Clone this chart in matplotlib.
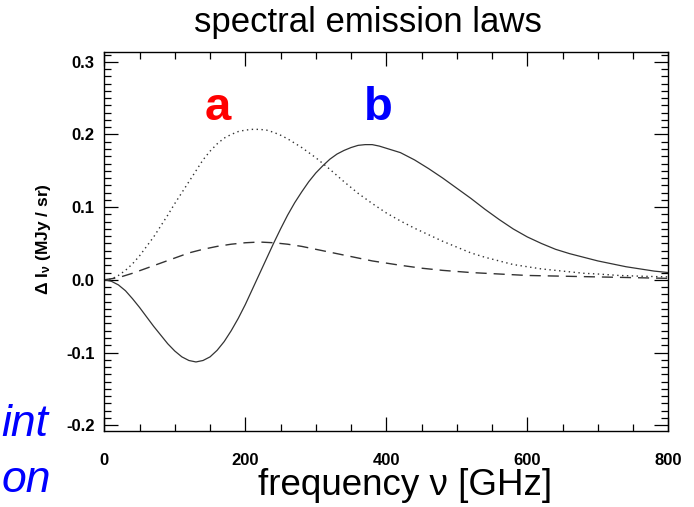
import matplotlib
matplotlib.use("Agg")
import matplotlib.pyplot as plt
from matplotlib.ticker import MultipleLocator

plt.rcParams['font.family'] = ['Liberation Sans', 'DejaVu Sans']
plt.rcParams['mathtext.fontset'] = 'custom'
plt.rcParams['mathtext.rm'] = 'Liberation Sans:bold'
plt.rcParams['mathtext.it'] = 'Liberation Sans:bold'
plt.rcParams['mathtext.bf'] = 'Liberation Sans:bold'

# curve b (solid)
freq_b = [0, 10, 20, 30, 40, 50, 60, 70, 80, 90, 100, 110, 120, 130, 140, 150, 160,
          170, 180, 190, 200, 210, 220, 230, 240, 250, 260, 270, 280, 290, 300, 310,
          320, 330, 340, 350, 360, 370, 380, 390, 400, 420, 440, 460, 480, 500, 520,
          540, 560, 580, 600, 620, 640, 660, 680, 700, 720, 740, 760, 780, 800]
val_b = [0.0, -0.002, -0.007, -0.015, -0.026, -0.038, -0.051, -0.064, -0.076, -0.088,
         -0.098, -0.106, -0.111, -0.113, -0.111, -0.106, -0.097, -0.085, -0.070,
         -0.053, -0.034, -0.013, 0.008, 0.029, 0.050, 0.070, 0.089, 0.106, 0.121,
         0.135, 0.147, 0.157, 0.166, 0.173, 0.178, 0.182, 0.185, 0.186, 0.186, 0.184,
         0.181, 0.175, 0.165, 0.153, 0.140, 0.126, 0.112, 0.097, 0.083, 0.070, 0.059,
         0.050, 0.042, 0.036, 0.031, 0.026, 0.022, 0.018, 0.015, 0.012, 0.010]

# curve a (dotted)
freq_a = [0, 10, 20, 30, 40, 50, 60, 70, 80, 90, 100, 110, 120, 130, 140, 150, 160,
          170, 180, 190, 200, 210, 220, 230, 240, 250, 260, 270, 280, 290, 300, 320,
          340, 360, 380, 400, 420, 440, 460, 480, 500, 520, 540, 560, 580, 600, 620,
          640, 660, 680, 700, 730, 760, 800]
val_a = [0.0, 0.001, 0.006, 0.013, 0.022, 0.033, 0.046, 0.059, 0.074, 0.089, 0.105,
         0.120, 0.135, 0.150, 0.165, 0.177, 0.187, 0.195, 0.200, 0.204, 0.206, 0.207,
         0.207, 0.206, 0.203, 0.199, 0.194, 0.188, 0.182, 0.175, 0.168, 0.152, 0.135,
         0.119, 0.105, 0.092, 0.081, 0.071, 0.062, 0.053, 0.045, 0.037, 0.031, 0.026,
         0.021, 0.018, 0.015, 0.013, 0.011, 0.009, 0.008, 0.006, 0.005, 0.004]

# dashed curve
freq_c = [0, 20, 40, 60, 80, 100, 120, 140, 160, 180, 200, 220, 240, 260, 280, 300,
          320, 340, 360, 380, 400, 420, 450, 480, 520, 560, 600, 650, 700, 750, 800]
val_c = [0.0, 0.003, 0.009, 0.016, 0.023, 0.030, 0.037, 0.042, 0.046, 0.049, 0.051,
         0.052, 0.051, 0.049, 0.046, 0.042, 0.038, 0.034, 0.030, 0.026, 0.023, 0.020,
         0.016, 0.013, 0.010, 0.008, 0.006, 0.005, 0.004, 0.003, 0.002]

x_ticks = [0, 200, 400, 600, 800]
y_ticks = [-0.2, -0.1, 0.0, 0.1, 0.2, 0.3]

fig = plt.figure(figsize=(6.94, 5.07), dpi=100)
ax = fig.add_axes([0.1503, 0.1499, 0.8127, 0.7469])

ax.plot(freq_b, val_b, '-', color='#333333', lw=0.9)
ax.plot(freq_a, val_a, color='#333333', lw=1.0, linestyle=(0, (1, 2.5)))
ax.plot(freq_c, val_c, color='#333333', lw=1.0, linestyle=(0, (8, 5)))

ax.set_xlim(0, 800)
ax.set_ylim(-0.208, 0.313)
ax.set_xticks(x_ticks)
ax.set_yticks(y_ticks)
ax.set_xticklabels([str(t) for t in x_ticks])
ax.set_yticklabels(['%.1f' % t for t in y_ticks])
ax.xaxis.set_minor_locator(MultipleLocator(50))
ax.yaxis.set_minor_locator(MultipleLocator(0.01))
ax.tick_params(which='both', direction='in', top=True, right=True, width=0.9)
ax.tick_params(which='major', length=10)
ax.tick_params(which='minor', length=5)
ax.tick_params(axis='x', pad=16, labelsize=12)
ax.tick_params(axis='y', pad=7, labelsize=12)
for lab in ax.get_xticklabels() + ax.get_yticklabels():
    lab.set_fontweight('bold')
for s in ax.spines.values():
    s.set_linewidth(1.0)

fig.text(0.062, 0.528, r'$\Delta$ I$_{\nu}$ (MJy / sr)', rotation=90,
         ha='center', va='center', fontsize=12.5, fontweight='bold')

fig.text(0.53, 0.955, 'spectral emission laws', ha='center', va='center', fontsize=25)
fig.text(0.584, 0.042, 'frequency ν [GHz]', ha='center', va='center', fontsize=26.5)

fig.text(0.314, 0.787, 'a', color='#ff0000', ha='center', va='center',
         fontsize=34, fontweight='bold')
fig.text(0.545, 0.787, 'b', color='#0000ff', ha='center', va='center',
         fontsize=34, fontweight='bold')

fig.text(0.002, 0.162, 'int', color='#0000ff', ha='left', va='center',
         fontsize=32, style='italic')
fig.text(0.002, 0.052, 'on', color='#0000ff', ha='left', va='center',
         fontsize=32, style='italic')

fig.savefig('out.png', dpi=100)
